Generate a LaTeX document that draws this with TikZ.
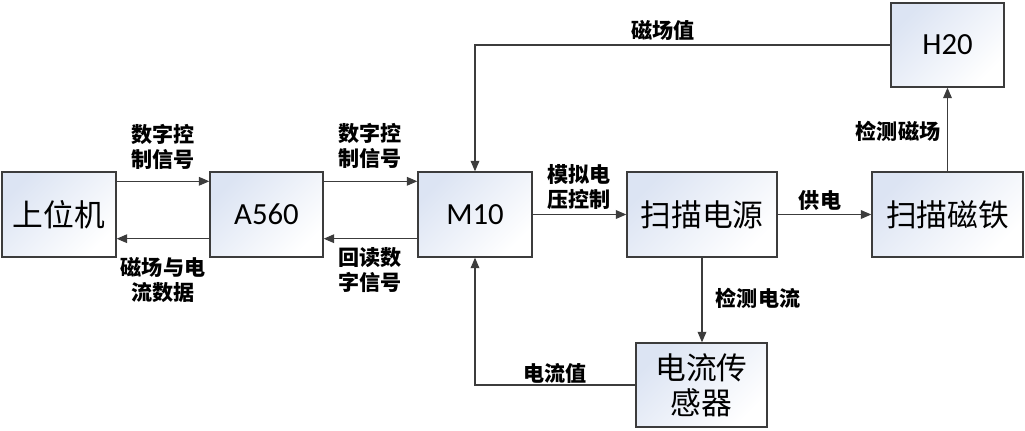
\documentclass[tikz,border=0pt]{standalone}
\usepackage{fontspec}
\setmainfont{Carlito}
\newfontfamily\cjk{Noto Sans CJK SC}
\usetikzlibrary{arrows.meta}
\definecolor{boxblue}{RGB}{220,228,243}
\definecolor{linegray}{RGB}{60,60,60}
\tikzset{
	blk/.style={draw=linegray,line width=0.8pt,top color=boxblue,bottom color=white,shading angle=45,
		minimum height=1.7cm,inner sep=0pt,align=center,font=\fontsize{17.5}{20}\selectfont},
	lab/.style={align=center,font=\cjk\bfseries\fontsize{12}{14.5}\selectfont},
	arr/.style={-{Triangle[length=6pt,width=5pt]},line width=0.6pt,draw=linegray}
}
\begin{document}
\begin{tikzpicture}[x=0.02cm,y=-0.02cm]
	\useasboundingbox (0,0) rectangle (1025,430);
	% blocks
	\node[blk,minimum width=2.28cm] (pc)     at (59,214.5)    {\cjk 上位机};
	\node[blk,minimum width=2.26cm] (a560)   at (266.5,214.5) {A560};
	\node[blk,minimum width=2.28cm] (m10)    at (475,214.5)   {M10};
	\node[blk,minimum width=3.0cm]  (psu)    at (702,214.5)   {\cjk 扫描电源};
	\node[blk,minimum width=3.02cm] (magnet) at (947.5,214.5) {\cjk 扫描磁铁};
	\node[blk,minimum width=2.26cm,minimum height=1.68cm] (h20)    at (947.5,45)  {H20};
	\node[blk,minimum width=2.62cm,minimum height=1.68cm] (sensor) at (701.5,385) {\cjk 电流传\\\cjk 感器};
	% connectors
	\draw[arr] ([yshift=-0.2cm]pc.north east) -- ([yshift=-0.2cm]a560.north west);
	\draw[arr] ([yshift=0.38cm]a560.south west) -- ([yshift=0.38cm]pc.south east);
	\draw[arr] ([yshift=-0.2cm]a560.north east) -- ([yshift=-0.2cm]m10.north west);
	\draw[arr] ([yshift=0.38cm]m10.south west) -- ([yshift=0.38cm]a560.south east);
	\draw[arr] (m10.east) -- (psu.west);
	\draw[arr] (psu.east) -- (magnet.west);
	\draw[arr] (magnet.north) -- (h20.south);
	\draw[arr] (h20.west) -| (m10.north);
	\draw[arr] (psu.south) -- (psu.south |- sensor.north);
	\draw[arr] (sensor.west) -| (m10.south);
	% labels
	\node[lab] (l1)  at (163,147) {数字控\\制信号};
	\node[lab] (l2)  at (163,280) {磁场与电\\流数据};
	\node[lab] (l3)  at (370,146) {数字控\\制信号};
	\node[lab] (l4)  at (370,270) {回读数\\字信号};
	\node[lab] (l5)  at (579,187) {模拟电\\压控制};
	\node[lab] (l6)  at (820,200) {供电};
	\node[lab] (l7)  at (898,131) {检测磁场};
	\node[lab] (l8)  at (663,30)  {磁场值};
	\node[lab] (l9)  at (758,298) {检测电流};
	\node[lab] (l10) at (555,373) {电流值};
\end{tikzpicture}
\end{document}
